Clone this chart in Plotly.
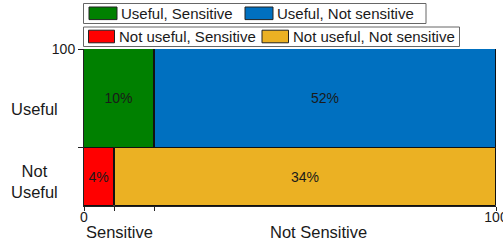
import plotly.graph_objects as go

# ---- data ----
rows = ["Useful", "Not Useful"]
row_heights = [63, 37]            # share of total (%), top row first
sensitive_share = [17.2, 7.4]     # share of each row that is "Sensitive" (%)
cols = ["Sensitive", "Not Sensitive"]
pct_sensitive = ["10%", "4%"]
pct_not_sensitive = ["52%", "34%"]
series_names = ["Useful, Sensitive", "Useful, Not sensitive",
                "Not useful, Sensitive", "Not useful, Not sensitive"]
colors = ["#008000", "#0070c0", "#ff0000", "#ebb123"]

W, H = 503, 245
L, R, T, B = 84, 7, 49, 39
PW, PH = W - L - R, H - T - B


def px(x):
    return (x - L) / PW


def py(y):
    return (H - B - y) / PH


FONT = "Liberation Sans, Arial, sans-serif"
TXT = "#1a1a1a"
GAP = 0.3

fig = go.Figure()

# row positions (top row = rows[0])
bases = []
acc = 0
for h in reversed(row_heights):
    bases.append(acc)
    acc += h
bases = list(reversed(bases))

for i, row in enumerate(rows):
    yc = bases[i] + row_heights[i] / 2
    s = sensitive_share[i]
    fig.add_trace(go.Bar(
        orientation="h", y=[yc], x=[s - GAP / 2], base=[0], width=[row_heights[i]],
        marker=dict(color=colors[2 * i], line=dict(color="#111", width=1)),
        text=[pct_sensitive[i]], textposition="inside", insidetextanchor="middle",
        textfont=dict(size=14, color=TXT, family=FONT), constraintext="none",
        name=series_names[2 * i], showlegend=False, hoverinfo="skip"))
    fig.add_trace(go.Bar(
        orientation="h", y=[yc], x=[100 - s - GAP / 2], base=[s + GAP / 2], width=[row_heights[i]],
        marker=dict(color=colors[2 * i + 1], line=dict(color="#111", width=1)),
        text=[pct_not_sensitive[i]], textposition="inside", insidetextanchor="middle",
        textfont=dict(size=14, color=TXT, family=FONT), constraintext="none",
        name=series_names[2 * i + 1], showlegend=False, hoverinfo="skip"))

shapes = []
annotations = []

# legend boxes (two rows)
legend_rows = [
    dict(box=(83.5, 3.5, 426, 23.5), items=[(89, 117, 119), (245, 273, 275)], yc=13.3, names=series_names[0:2], cols=colors[0:2]),
    dict(box=(83.5, 27, 459.5, 46.5), items=[(88.5, 114.5, 117), (262, 288.5, 290.5)], yc=36.5, names=series_names[2:4], cols=colors[2:4]),
]
for lr in legend_rows:
    x0, y0, x1, y1 = lr["box"]
    shapes.append(dict(type="rect", xref="paper", yref="paper",
                       x0=px(x0), x1=px(x1), y0=py(y1), y1=py(y0),
                       line=dict(color="#666", width=1), fillcolor="white"))
    for (sx0, sx1, tx), name, c in zip(lr["items"], lr["names"], lr["cols"]):
        shapes.append(dict(type="rect", xref="paper", yref="paper",
                           x0=px(sx0), x1=px(sx1), y0=py(lr["yc"] + 6.3), y1=py(lr["yc"] - 6.3),
                           line=dict(color="#222", width=1), fillcolor=c))
        annotations.append(dict(xref="paper", yref="paper", x=px(tx), y=py(lr["yc"]),
                                text=name, showarrow=False, xanchor="left", yanchor="middle",
                                font=dict(size=15, color=TXT, family=FONT)))

# row labels
row_label_pos = [(34, 109), (34, 181)]
row_label_text = ["Useful", "Not<br>Useful"]
for (x, y), t in zip(row_label_pos, row_label_text):
    annotations.append(dict(xref="paper", yref="paper", x=px(x), y=py(y), text=t,
                            showarrow=False, xanchor="center", yanchor="middle",
                            font=dict(size=16.5, color=TXT, family=FONT)))

# column labels
col_label_pos = [(119, 232), (318, 232)]
for (x, y), t in zip(col_label_pos, cols):
    annotations.append(dict(xref="paper", yref="paper", x=px(x), y=py(y), text=t,
                            showarrow=False, xanchor="center", yanchor="middle",
                            font=dict(size=16.5, color=TXT, family=FONT)))

fig.update_layout(
    width=W, height=H,
    margin=dict(l=L, r=R, t=T, b=B, pad=0, autoexpand=False),
    paper_bgcolor="white", plot_bgcolor="white",
    barmode="overlay", bargap=0,
    font=dict(family=FONT, color=TXT),
    shapes=shapes, annotations=annotations,
    xaxis=dict(range=[0, 100], showgrid=False, zeroline=False, showline=True,
               linecolor="#222", linewidth=1, ticks="outside", ticklen=4, tickcolor="#222",
               tickvals=[0, sensitive_share[1], sensitive_share[0], 100],
               ticktext=["0", "", "", "100"], tickfont=dict(size=14, color=TXT),
               ticklabelstandoff=-6, ticklabeloverflow="allow", automargin=False),
    yaxis=dict(range=[0, 100], showgrid=False, zeroline=False, showline=True,
               linecolor="#222", linewidth=1, ticks="outside", ticklen=5, tickcolor="#222",
               tickvals=[row_heights[1], 100], ticktext=["", "100"],
               tickfont=dict(size=14, color=TXT), automargin=False),
)

fig.write_html("out.html", config={"displayModeBar": False},
               post_script="document.body.style.margin='0';document.body.style.overflow='hidden';")
